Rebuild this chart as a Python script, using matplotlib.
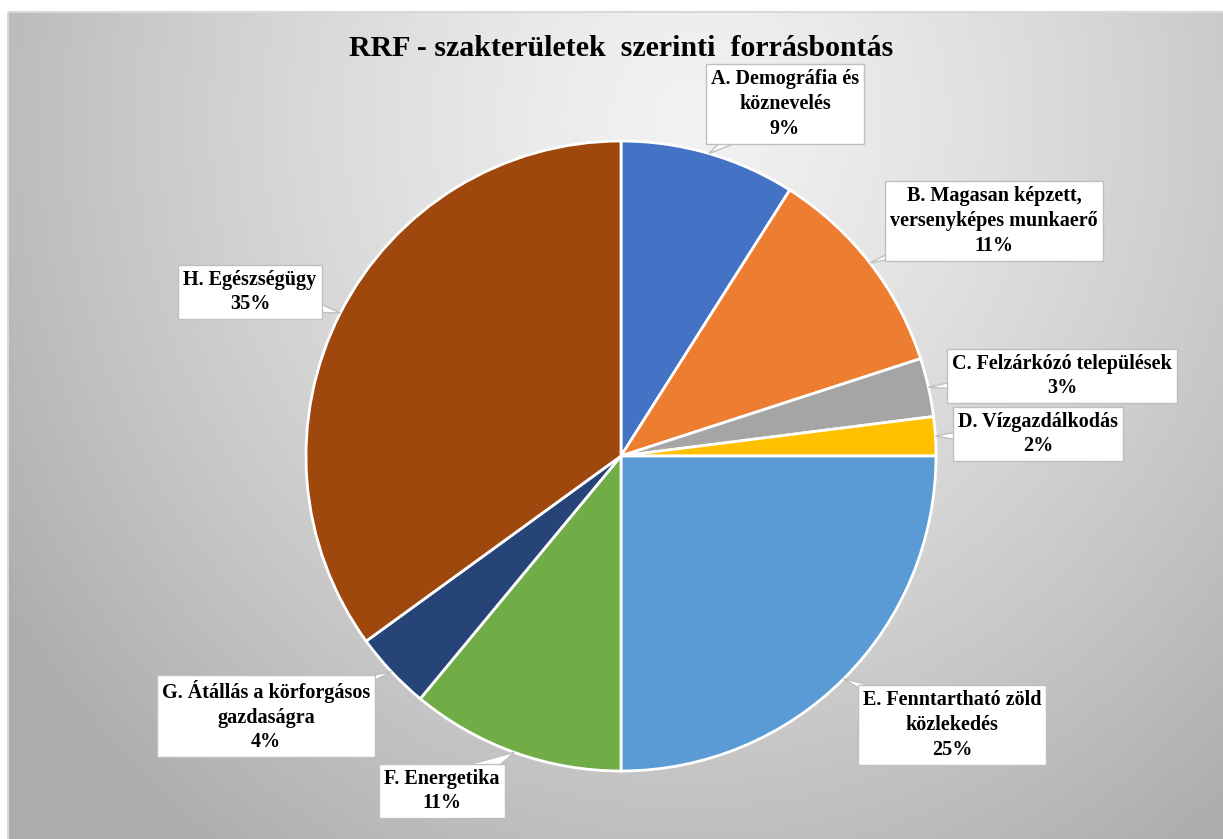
import numpy as np
import matplotlib.pyplot as plt
from matplotlib.patches import Polygon, Rectangle

plt.rcParams['font.family'] = ['Liberation Serif', 'DejaVu Serif']

categories = [
    "A. Demográfia és\nköznevelés",
    "B. Magasan képzett,\nversenyképes munkaerő",
    "C. Felzárkózó települések",
    "D. Vízgazdálkodás",
    "E. Fenntartható zöld\nközlekedés",
    "F. Energetika",
    "G. Átállás a körforgásos\ngazdaságra",
    "H. Egészségügy",
]
shares = [9, 11, 3, 2, 25, 11, 4, 35]
colors = ["#4472C4", "#ED7D31", "#A5A5A5", "#FFC000",
          "#5B9BD5", "#70AD47", "#264478", "#9E480E"]

W, H = 1223, 839
# pie centre and radius in pixels
CX, CY, R = 621, 456, 315
# label box centres in pixels
label_px = [(785, 104), (994, 221), (1062, 376), (1038, 434),
            (952, 725), (442, 791), (266, 716), (250, 292)]

fig = plt.figure(figsize=(W / 100, H / 100), dpi=100)

# background: white margin + grey radial gradient panel
bg = fig.add_axes([0, 0, 1, 1])
yy, xx = np.mgrid[0:H, 0:W]
d = np.sqrt(((xx - 690) / 820.0) ** 2 + ((yy - 120) / 900.0) ** 2)
d = np.clip(d, 0, 1)
val = 0.95 - (0.95 - 0.68) * d ** 1.3
img = np.dstack([val, val, val])
img[:12, :, :] = 1.0
img[:, :8, :] = 1.0
bg.imshow(img, extent=(0, W, H, 0), interpolation="bilinear", aspect="auto")
bg.add_patch(Rectangle((7.5, 11.5), W, H, fill=False, edgecolor="#d9d9d9", lw=1.5))
bg.set_xlim(0, W)
bg.set_ylim(H, 0)
bg.axis("off")

ax = fig.add_axes([(CX - R) / W, (H - CY - R) / H, 2 * R / W, 2 * R / H])
wedges, _ = ax.pie(shares, colors=colors, startangle=90, counterclock=False,
                   wedgeprops=dict(edgecolor="white", linewidth=2))
ax.set_xlim(-1, 1)
ax.set_ylim(-1, 1)
ax.axis("off")

total = float(sum(shares))
cum = 0.0
for name, v, (px, py) in zip(categories, shares, label_px):
    mid = np.deg2rad((cum + v / 2) / total * 360)
    cum += v
    anchor = np.array([np.sin(mid), np.cos(mid)])
    c = np.array([(px - CX) / R, (CY - py) / R])
    dvec = c - anchor
    dvec /= np.linalg.norm(dvec)
    perp = np.array([-dvec[1], dvec[0]])
    hw = 0.06
    tri = Polygon([anchor, c + hw * perp, c - hw * perp], closed=True,
                  facecolor="white", edgecolor="#bfbfbf", lw=1,
                  zorder=4, clip_on=False)
    ax.add_patch(tri)
    ax.text(c[0], c[1], "{}\n{:.0f}%".format(name, v / total * 100),
            ha="center", va="center", fontsize=14.5, fontweight="bold",
            color="#000000", zorder=5, linespacing=1.32,
            bbox=dict(boxstyle="square,pad=0.25", facecolor="white",
                      edgecolor="#bfbfbf", lw=1))

fig.text(621 / W, 1 - 48 / H, "RRF - szakterületek  szerinti  forrásbontás",
         ha="center", va="center", fontsize=21.5, fontweight="bold")

fig.savefig("out.png", dpi=100)
